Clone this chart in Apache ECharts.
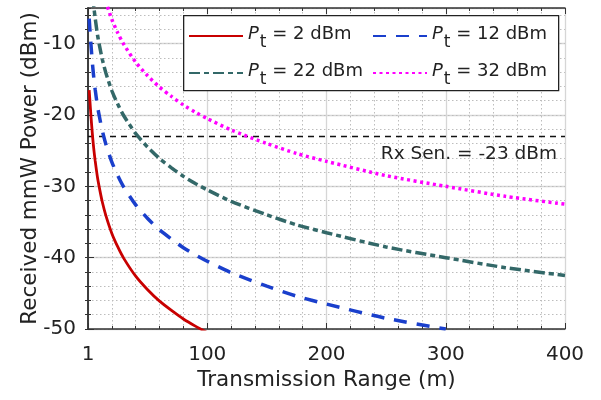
<!DOCTYPE html>
<html>
<head>
<meta charset="utf-8">
<script src="https://cdn.jsdelivr.net/npm/echarts@6/dist/echarts.min.js"></script>
<style>
	html, body { margin: 0; padding: 0; background: #fff; }
	#chart { width: 601px; height: 400px; }
</style>
</head>
<body>
<div id="chart"></div>
<script>
//传输距离 (m)
var ranges = [1, 2, 3, 4, 5, 6, 8, 10, 12, 15, 20, 25, 30, 40, 50, 60, 70, 80, 90, 100, 120, 150, 175, 200, 250, 300, 350, 400];
//各发射功率下的接收功率 (dBm)
var pt2 = [-16.5, -19.0, -21.3, -23.3, -25.0, -26.4, -28.8, -30.6, -32.2, -34.1, -36.6, -38.5, -40.1, -42.6, -44.5, -46.1, -47.4, -48.6, -49.6, -50.5, null, null, null, null, null, null, null, null];
var pt12 = [-6.5, -9.0, -11.3, -13.3, -15.0, -16.4, -18.8, -20.6, -22.2, -24.1, -26.6, -28.5, -30.1, -32.6, -34.5, -36.1, -37.4, -38.6, -39.6, -40.5, -42.1, -44.0, -45.4, -46.5, -48.5, -50.0, null, null];
var pt22 = [null, null, null, -3.3, -5.0, -6.4, -8.8, -10.6, -12.2, -14.1, -16.6, -18.5, -20.1, -22.6, -24.5, -26.1, -27.4, -28.6, -29.6, -30.5, -32.1, -34.0, -35.4, -36.5, -38.5, -40.0, -41.4, -42.5];
var pt32 = [null, null, null, null, null, null, null, null, -2.2, -4.1, -6.6, -8.5, -10.1, -12.6, -14.5, -16.1, -17.4, -18.6, -19.6, -20.5, -22.1, -24.0, -25.4, -26.5, -28.5, -30.0, -31.4, -32.5];
var powers = [2, 12, 22, 32];
var xTicks = ['1', '100', '200', '300', '400'];
var rxSen = -23;

var font = 'DejaVu Sans';
var textColor = '#222';

function pairs(vals) {
	var out = [];
	for (var i = 0; i < ranges.length; i++) {
		out.push([ranges[i], vals[i]]);
	}
	return out;
}

function seriesName(p) {
	return 'Pt = ' + p + ' dBm';
}

//曲线样式
var styles = [
	{ color: '#c80000', width: 2.8, type: 'solid' },
	{ color: '#1a3fcc', width: 3.5, type: [13, 10] },
	{ color: '#336868', width: 3.5, type: [11, 4, 5, 4] },
	{ color: '#ff00ff', width: 3.5, type: [3, 3.5] }
];
var values = [pt2, pt12, pt22, pt32];

var series = [];
for (var k = 0; k < powers.length; k++) {
	series.push({
		name: seriesName(powers[k]),
		type: 'line',
		data: pairs(values[k]),
		xAxisIndex: 0,
		yAxisIndex: 0,
		showSymbol: false,
		symbol: 'none',
		smooth: 0.25,
		clip: true,
		color: styles[k].color,
		lineStyle: { color: styles[k].color, width: styles[k].width, type: styles[k].type },
		z: 5
	});
}

//接收灵敏度
series[0].markLine = {
	silent: true,
	symbol: 'none',
	lineStyle: { color: '#111', width: 1.3, type: [6, 5] },
	label: {
		position: 'insideEndBottom',
		formatter: 'Rx Sen. = ' + rxSen + ' dBm',
		fontFamily: font,
		fontSize: 18.5,
		color: textColor,
		distance: 8
	},
	data: [{ yAxis: rxSen }]
};

var minorGrid = { show: true, lineStyle: { color: '#bdbdbd', width: 1, type: [1.5, 2.5] } };

//图例
var legendText = {
	color: textColor,
	fontFamily: font,
	rich: {
		i: { fontStyle: 'italic', fontSize: 18, fontFamily: font, lineHeight: 22, verticalAlign: 'top', color: textColor },
		s: { fontSize: 17, fontFamily: font, lineHeight: 22, padding: [9, 0, 0, 1], verticalAlign: 'top', color: textColor },
		n: { fontSize: 18, fontFamily: font, lineHeight: 22, verticalAlign: 'top', color: textColor }
	}
};
function legendFmt(name) {
	var p = name.split(' ')[2];
	return '{i|P}{s|t}{n| = ' + p + ' dBm}';
}
function legendAt(left, names) {
	return {
		orient: 'vertical',
		left: left,
		top: 25,
		padding: 0,
		itemGap: 11,
		itemWidth: 54,
		itemHeight: 14,
		itemStyle: { opacity: 0 },
		data: names,
		formatter: legendFmt,
		textStyle: legendText
	};
}

var option = {
	animation: false,
	backgroundColor: '#fff',
	grid: { left: 88, right: 36, top: 8, bottom: 71 },
	graphic: [{
		type: 'rect',
		left: 183,
		top: 15,
		z: 3,
		shape: { width: 375, height: 75 },
		style: { fill: '#fff', stroke: '#222', lineWidth: 1.3 }
	}],
	legend: [
		legendAt(188, [seriesName(2), seriesName(22)]),
		legendAt(372, [seriesName(12), seriesName(32)])
	],
	xAxis: [{
		type: 'value',
		min: 0,
		max: 400,
		interval: 100,
		name: 'Transmission Range (m)',
		nameLocation: 'middle',
		nameGap: 40,
		nameTextStyle: { fontFamily: font, fontSize: 21.5, color: textColor },
		axisLine: { show: true, lineStyle: { color: '#333', width: 1.5 } },
		axisTick: { show: true, inside: true, length: 6, lineStyle: { color: '#333' } },
		minorTick: { show: true, splitNumber: 5, length: 3, lineStyle: { color: '#333' } },
		axisLabel: {
			margin: 16,
			fontFamily: font,
			fontSize: 20,
			color: textColor,
			formatter: function(v) { return xTicks[v / 100]; }
		},
		splitLine: { show: true, lineStyle: { color: '#d6d6d6', width: 1.3 } },
		minorSplitLine: minorGrid
	}, {
		type: 'value',
		position: 'top',
		min: 0,
		max: 400,
		interval: 100,
		axisLine: { show: true, lineStyle: { color: '#333', width: 1.5 } },
		axisTick: { show: true, inside: true, length: 6, lineStyle: { color: '#333' } },
		minorTick: { show: true, splitNumber: 5, length: 3, lineStyle: { color: '#333' } },
		axisLabel: { show: false },
		splitLine: { show: false }
	}],
	yAxis: [{
		type: 'value',
		min: -50,
		max: -5,
		interval: 10,
		name: 'Received mmW Power (dBm)',
		nameLocation: 'middle',
		nameGap: 47,
		nameMoveOverlap: false,
		nameTextStyle: { fontFamily: font, fontSize: 21.5, color: textColor },
		axisLine: { show: true, lineStyle: { color: '#333', width: 1.5 } },
		axisTick: { show: true, inside: true, length: 6, lineStyle: { color: '#333' } },
		axisLabel: { margin: 12, fontFamily: font, fontSize: 20, color: textColor, showMaxLabel: false },
		splitLine: { show: true, lineStyle: { color: '#d6d6d6', width: 1.3 } }
	}, {
		type: 'value',
		position: 'right',
		min: -50,
		max: -5,
		interval: 2,
		axisLine: { show: true, lineStyle: { color: '#333', width: 1.5 } },
		axisTick: { show: true, inside: true, length: 3, lineStyle: { color: '#333' } },
		axisLabel: { show: false },
		splitLine: minorGrid
	}, {
		type: 'value',
		position: 'left',
		min: -50,
		max: -5,
		interval: 2,
		axisLine: { show: false },
		axisTick: { show: true, inside: true, length: 3, lineStyle: { color: '#333' } },
		axisLabel: { show: false },
		splitLine: { show: false }
	}],
	series: series
};

var chart = echarts.init(document.getElementById('chart'), null, { renderer: 'canvas' });
chart.setOption(option);
</script>
</body>
</html>
